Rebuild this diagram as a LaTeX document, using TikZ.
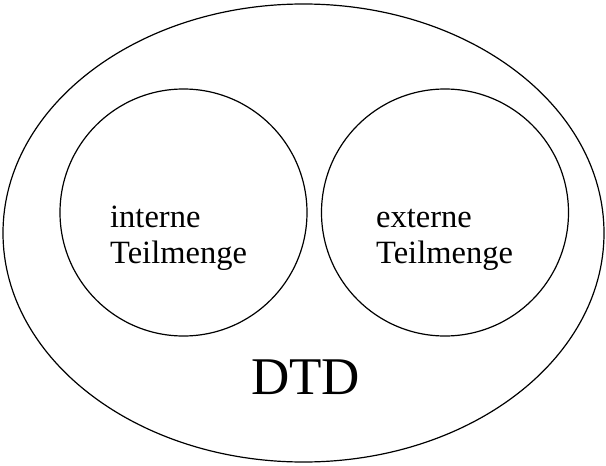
\documentclass[tikz,border=0pt]{standalone}
\usepackage{fontspec}
\usetikzlibrary{shapes.geometric}
\setmainfont{Liberation Serif}
\begin{document}
\begin{tikzpicture}[x=1pt,y=-1pt,
  shapeline/.style={draw=black,line width=1.2pt},
  lbl/.style={anchor=base west,inner sep=0pt,font=\fontsize{32.5}{36}\selectfont}]
\useasboundingbox (0,0) rectangle (606,466);
\node[shapeline,ellipse,minimum width=601,minimum height=458,inner sep=0pt] (dtd) at (303.5,233) {};
\node[shapeline,circle,minimum size=247,inner sep=0pt] (int) at (183.5,212.5) {};
\node[shapeline,circle,minimum size=247,inner sep=0pt] (ext) at (445,212.5) {};
\node[lbl] (t1) at (110,227) {interne};
\node[lbl] (t2) at (110,263) {Teilmenge};
\node[lbl] (t3) at (376,227) {externe};
\node[lbl] (t4) at (376,263) {Teilmenge};
\node[anchor=base west,inner sep=0pt,font=\fontsize{53}{60}\selectfont] (lab) at (251,394) {DTD};
\end{tikzpicture}
\end{document}
